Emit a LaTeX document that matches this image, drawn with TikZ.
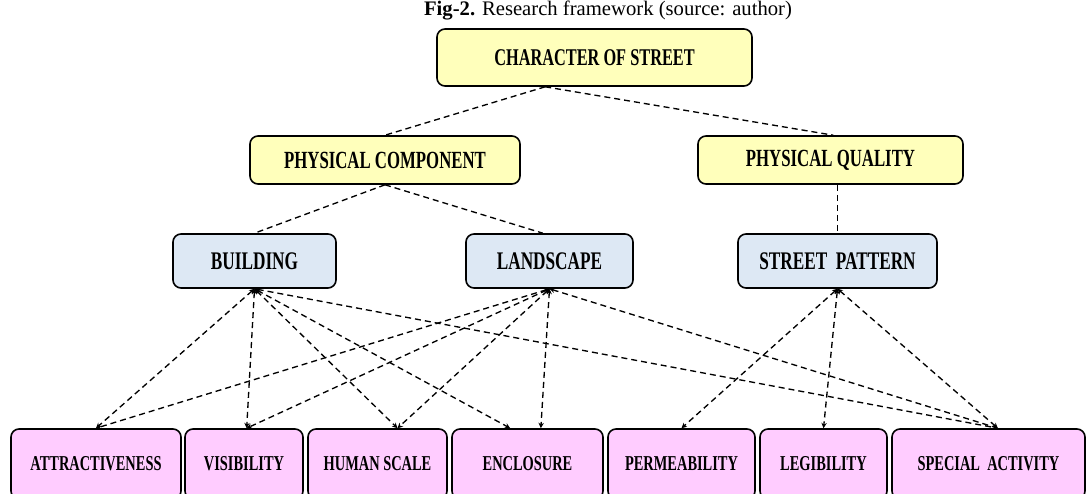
\documentclass[tikz,border=0pt]{standalone}
\usepackage{fontspec}
\setmainfont{Liberation Serif}
\newfontfamily\condfont[FakeStretch=0.68]{Liberation Serif}
\usetikzlibrary{arrows.meta,calc}
\definecolor{yfill}{RGB}{255,255,187}
\definecolor{bfill}{RGB}{221,232,244}
\definecolor{pfill}{RGB}{255,204,255}
\begin{document}
\begin{tikzpicture}[x=0.75pt,y=-0.75pt,
  box/.style={draw,line width=1.2pt,rounded corners=6pt,inner sep=0pt,align=center},
  topbox/.style={box,fill=yfill,font=\condfont\bfseries\fontsize{18}{20}\selectfont},
  midbox/.style={box,fill=yfill,font=\condfont\bfseries\fontsize{18.5}{20}\selectfont,minimum height=36pt},
  thirdbox/.style={box,fill=bfill,font=\condfont\bfseries\fontsize{19}{21}\selectfont,minimum height=40.5pt},
  lowbox/.style={box,fill=pfill,font=\condfont\bfseries\fontsize{15.9}{18}\selectfont,minimum height=52.5pt},
  link/.style={line width=1pt,dash pattern=on 4.5pt off 3pt},
  arr/.style={link,{Stealth[length=4pt,width=4pt]}-{Stealth[length=4pt,width=4pt]}}]
\useasboundingbox (0,0) rectangle (1089,493);

\node (cap) at (608,11) {\fontsize{15.5}{18}\selectfont\textbf{Fig-2.} Research framework (source: author)};

\node[topbox,minimum width=236.25pt,minimum height=42.75pt] (char) at (594.5,57.5) {CHARACTER OF STREET};

\node[midbox,minimum width=202.5pt] (pc) at (385,160) {PHYSICAL COMPONENT};
\node[midbox,minimum width=198.75pt] (pq) at (830.5,160) {PHYSICAL QUALITY};

\node[thirdbox,minimum width=122.25pt] (bld) at (254.5,261) {BUILDING};
\node[thirdbox,minimum width=125.25pt] (lsc) at (549.5,261) {LANDSCAPE};
\node[thirdbox,minimum width=149.25pt] (sp) at (837.5,261) {STREET~~PATTERN};

\node[lowbox,minimum width=127.5pt] (attr) at (96,464) {ATTRACTIVENESS};
\node[lowbox,minimum width=88.5pt] (vis) at (244,464) {VISIBILITY};
\node[lowbox,minimum width=104.25pt] (hum) at (377.5,464) {HUMAN SCALE};
\node[lowbox,minimum width=113.25pt] (enc) at (527.5,464) {ENCLOSURE};
\node[lowbox,minimum width=110.25pt] (perm) at (681.5,464) {PERMEABILITY};
\node[lowbox,minimum width=95.25pt] (leg) at (823.5,464) {LEGIBILITY};
\node[lowbox,minimum width=144.75pt] (spec) at (988.5,464) {SPECIAL~~ACTIVITY};

% upper levels
\coordinate (charapex) at ([xshift=-37pt]char.south);
\draw[link] (charapex) -- (pc.north);
\draw[link] (charapex) -- ([xshift=2pt]pq.north);
\draw[link] (pc.south) -- (bld.north);
\draw[link] (pc.south) -- ([xshift=-5pt]lsc.north);
\draw[link] (pq.south -| sp.north) -- (sp.north);

% building
\draw[arr] (bld.south) -- (attr.north);
\draw[arr] (bld.south) -- ([xshift=2pt]vis.north);
\draw[arr] (bld.south) -- ([xshift=15pt]hum.north);
\draw[arr] (bld.south) -- ([xshift=-13pt]enc.north);
\draw[arr] (bld.south) -- ([xshift=7pt]spec.north);
% landscape
\draw[arr] (lsc.south) -- (attr.north);
\draw[arr] (lsc.south) -- ([xshift=2pt]vis.north);
\draw[arr] (lsc.south) -- ([xshift=15pt]hum.north);
\draw[arr] (lsc.south) -- ([xshift=10pt]enc.north);
\draw[arr] (lsc.south) -- ([xshift=7pt]spec.north);
% street pattern
\draw[arr] (sp.south) -- (perm.north);
\draw[arr] (sp.south) -- (leg.north);
\draw[arr] (sp.south) -- ([xshift=7pt]spec.north);
\end{tikzpicture}
\end{document}
